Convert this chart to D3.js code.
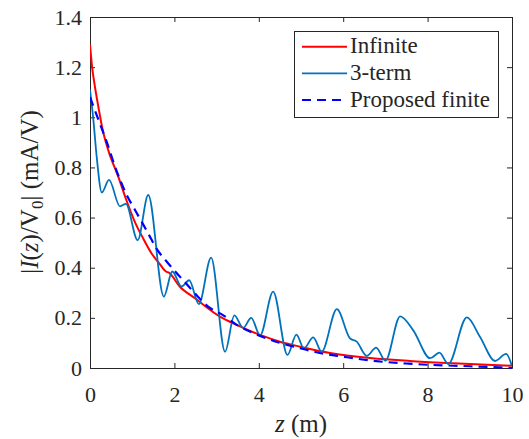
<!DOCTYPE html>
<html>
<head>
<meta charset="utf-8">
<script src="https://cdn.jsdelivr.net/npm/d3@7"></script>
</head>
<body style="margin:0">
<svg id="chart" width="529" height="439" font-family="Liberation Serif"></svg>
<script>
// ---- data ----
const xTicks = [0, 2, 4, 6, 8, 10];
const yTicks = [0, 0.2, 0.4, 0.6, 0.8, 1.0, 1.2, 1.4];

const infiniteZ = [0, 0.05, 0.1, 0.2, 0.3, 0.45, 0.67, 0.85, 1.07, 1.25, 1.46, 1.65, 1.8, 1.87, 2.13, 2.49, 3.08, 3.5, 4.03, 4.5, 4.98, 5.69, 6.64, 7.58, 8.6, 10];
const infiniteV = [1.29, 1.2, 1.14, 1.04, 0.95, 0.86, 0.763, 0.675, 0.58, 0.52, 0.457, 0.415, 0.385, 0.38, 0.324, 0.278, 0.205, 0.17, 0.132, 0.105, 0.085, 0.06, 0.04, 0.028, 0.019, 0.009];

const threeTermZ = [0, 0.08, 0.16, 0.28, 0.45, 0.71, 0.85, 1.13, 1.38, 1.75, 1.95, 2.17, 2.35, 2.58, 2.87, 3.2, 3.42, 3.63, 3.82, 4.03, 4.34, 4.68, 4.89, 5.07, 5.29, 5.49, 5.85, 6.16, 6.32, 6.56, 6.78, 7.0, 7.35, 7.66, 8.06, 8.28, 8.49, 8.93, 9.24, 9.6, 9.86, 10];
const threeTermV = [1.11, 0.99, 0.84, 0.70, 0.75, 0.645, 0.655, 0.51, 0.69, 0.285, 0.385, 0.325, 0.35, 0.255, 0.44, 0.065, 0.21, 0.16, 0.20, 0.13, 0.305, 0.052, 0.133, 0.078, 0.122, 0.065, 0.235, 0.118, 0.105, 0.048, 0.081, 0.029, 0.206, 0.15, 0.039, 0.061, 0.016, 0.202, 0.125, 0.028, 0.056, 0.008];

const proposedZ = [0, 0.2, 0.4, 0.6, 0.87, 1.05, 1.22, 1.4, 1.58, 1.8, 2.01, 2.25, 2.5, 2.8, 3.16, 3.5, 4, 4.5, 5, 5.5, 6, 6.5, 7, 7.5, 8, 8.5, 9, 9.5, 10];
const proposedV = [1.08, 0.99, 0.9, 0.8, 0.69, 0.635, 0.585, 0.53, 0.475, 0.428, 0.387, 0.342, 0.295, 0.245, 0.21, 0.17, 0.13, 0.1, 0.078, 0.058, 0.045, 0.033, 0.024, 0.018, 0.013, 0.01, 0.007, 0.004, 0.0];

const seriesNames = ["Infinite", "3-term", "Proposed finite"];
const seriesColors = ["#ff0000", "#0072bd", "#0000ff"];

// ---- layout ----
const FONT = "Liberation Serif";
const mLeft = 90, mRight = 512, mTop = 17, mBottom = 368;
const svg = d3.select("#chart");
const x = d3.scaleLinear().domain([0, 10]).range([mLeft, mRight]);
const y = d3.scaleLinear().domain([0, 1.4]).range([mBottom, mTop]);
const axisColor = "#262626";

const fmtY = d => String(+d.toFixed(1));

function styleAxis(g) {
  g.attr("font-family", FONT).attr("font-size", 22);
  g.select(".domain").attr("stroke", axisColor).attr("stroke-width", 1);
  g.selectAll(".tick line").attr("stroke", axisColor).attr("stroke-width", 1);
  g.selectAll("text").attr("fill", axisColor).attr("font-family", FONT).attr("font-size", 22);
}

svg.append("g").attr("transform", `translate(0,${mBottom})`)
  .call(d3.axisBottom(x).tickValues(xTicks).tickSize(-5).tickPadding(18).tickSizeOuter(0).tickFormat(d => String(d)))
  .call(styleAxis);
svg.append("g").attr("transform", `translate(0,${mTop})`)
  .call(d3.axisTop(x).tickValues(xTicks).tickSize(-5).tickSizeOuter(0).tickFormat(""))
  .call(styleAxis);
svg.append("g").attr("transform", `translate(${mLeft},0)`)
  .call(d3.axisLeft(y).tickValues(yTicks).tickSize(-5).tickPadding(8).tickSizeOuter(0).tickFormat(fmtY))
  .call(styleAxis);
svg.append("g").attr("transform", `translate(${mRight},0)`)
  .call(d3.axisRight(y).tickValues(yTicks).tickSize(-5).tickSizeOuter(0).tickFormat(""))
  .call(styleAxis);

// ---- lines ----
svg.append("clipPath").attr("id", "clip").append("rect")
  .attr("x", mLeft).attr("y", mTop).attr("width", mRight - mLeft).attr("height", mBottom - mTop + 2);

const plot = svg.append("g").attr("clip-path", "url(#clip)");

function draw(zs, vs, color, width, dash) {
  const data = zs.map((z, i) => [z, vs[i]]);
  plot.append("path").datum(data)
    .attr("fill", "none").attr("stroke", color).attr("stroke-width", width)
    .attr("stroke-dasharray", dash || null)
    .attr("d", d3.line().x(d => x(d[0])).y(d => y(d[1])).curve(d3.curveMonotoneX));
}
draw(infiniteZ, infiniteV, seriesColors[0], 2);
draw(threeTermZ, threeTermV, seriesColors[1], 1.8);
draw(proposedZ, proposedV, seriesColors[2], 2.2, "9,6");

// ---- legend ----
const lg = svg.append("g");
lg.append("rect").attr("x", 294.5).attr("y", 31.5).attr("width", 204).attr("height", 86)
  .attr("fill", "#fff").attr("stroke", axisColor).attr("stroke-width", 1);
seriesNames.forEach((name, i) => {
  const cy = 46.7 + i * 26.7;
  lg.append("line").attr("x1", 302).attr("x2", 347).attr("y1", cy).attr("y2", cy)
    .attr("stroke", seriesColors[i]).attr("stroke-width", i === 1 ? 1.8 : 2)
    .attr("stroke-dasharray", i === 2 ? "9,6" : null);
  lg.append("text").attr("x", 350).attr("y", cy + 6.5)
    .attr("font-size", 23).attr("font-family", FONT).attr("fill", axisColor).text(name);
});

// ---- axis labels ----
const xl = svg.append("text").attr("x", 301).attr("y", 432).attr("text-anchor", "middle")
  .attr("font-size", 25).attr("font-family", FONT).attr("fill", axisColor);
xl.append("tspan").attr("font-style", "italic").text("z");
xl.append("tspan").text(" (m)");

const yl = svg.append("text").attr("transform", "translate(38,192) rotate(-90)")
  .attr("text-anchor", "middle").attr("font-size", 25).attr("font-family", FONT).attr("fill", axisColor);
yl.append("tspan").text("|");
yl.append("tspan").attr("font-style", "italic").text("I");
yl.append("tspan").text("(");
yl.append("tspan").attr("font-style", "italic").text("z");
yl.append("tspan").text(")/V");
yl.append("tspan").attr("font-size", 17).attr("dy", 5).text("0");
yl.append("tspan").attr("dy", -5).text("| (mA/V)");
</script>
</body>
</html>
